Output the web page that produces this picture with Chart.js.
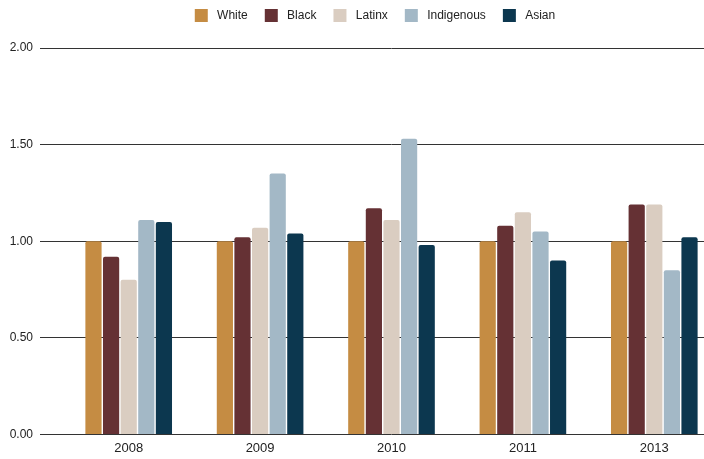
<!DOCTYPE html>
<html>
<head>
<meta charset="utf-8">
<script src="https://cdn.jsdelivr.net/npm/chart.js@4.4.1/dist/chart.umd.min.js"></script>
<style>
  html, body { margin: 0; padding: 0; background: #fff; overflow: hidden; }
  #wrap { width: 720px; height: 459px; }
</style>
</head>
<body>
<div id="wrap"><canvas id="ratioChart"></canvas></div>
<script>
const years = ['2008', '2009', '2010', '2011', '2013']
const groups = ['White', 'Black', 'Latinx', 'Indigenous', 'Asian']
const colors = ['#c58c43', '#653134', '#dacdc1', '#a3b8c6', '#0c374f']

const white = [1.00, 1.00, 1.00, 1.00, 1.00]
const black = [0.92, 1.02, 1.17, 1.08, 1.19]
const latinx = [0.80, 1.07, 1.11, 1.15, 1.19]
const indigenous = [1.11, 1.35, 1.53, 1.05, 0.85]
const asian = [1.10, 1.04, 0.98, 0.90, 1.02]

const yTicks = [0, 0.5, 1, 1.5, 2]

const series = [white, black, latinx, indigenous, asian]

const font = 'Liberation Sans, Arial, sans-serif'

// more room under the legend
const legendGap = {
  id: 'legendGap',
  beforeInit(chart) {
    const fit = chart.legend.fit
    chart.legend.fit = function () {
      fit.bind(chart.legend)()
      this.height += 16
    }
  }
}

// y axis is squeezed narrow, let its labels spill to the left
const yLabelRoom = {
  id: 'yLabelRoom',
  afterLayout(chart) {
    chart.scales.y.left = 0
  }
}

function createRatioChart() {
  const ctx = document.getElementById('ratioChart')

  let datasets = series.map((values, i) => ({
    label: groups[i],
    data: values,
    backgroundColor: colors[i],
    borderRadius: { topLeft: 2, topRight: 2 },
    borderSkipped: 'bottom',
    barPercentage: 0.92,
    categoryPercentage: 0.67
  }))

  new Chart(ctx, {
    type: 'bar',
    data: { labels: years, datasets: datasets },
    plugins: [legendGap, yLabelRoom],
    options: {
      responsive: true,
      maintainAspectRatio: false,
      animation: false,
      layout: { padding: { left: 30, right: 0, top: -8, bottom: -3 } },
      plugins: {
        legend: {
          position: 'top',
          labels: {
            boxWidth: 13,
            boxHeight: 13,
            padding: 17,
            color: '#222',
            font: { family: font, size: 12 },
            generateLabels: chart => {
              const items = Chart.defaults.plugins.legend.labels.generateLabels(chart)
              items.forEach(item => { item.text = ' ' + item.text })
              return items
            }
          }
        },
        tooltip: { enabled: false }
      },
      scales: {
        x: {
          grid: { display: false, drawTicks: false },
          border: { display: false },
          ticks: {
            color: '#222',
            padding: 6,
            font: { family: font, size: 13 }
          }
        },
        y: {
          min: 0,
          max: 2,
          afterFit: axis => { axis.width = 33 },
          afterBuildTicks: axis => { axis.ticks = yTicks.map(v => ({ value: v })) },
          grid: { color: '#333', lineWidth: 1, tickLength: 23 },
          border: { display: false },
          ticks: {
            color: '#222',
            padding: 7,
            callback: v => v.toFixed(2),
            font: { family: font, size: 12 }
          }
        }
      }
    }
  })
}

document.addEventListener('DOMContentLoaded', () => createRatioChart())
</script>
</body>
</html>
